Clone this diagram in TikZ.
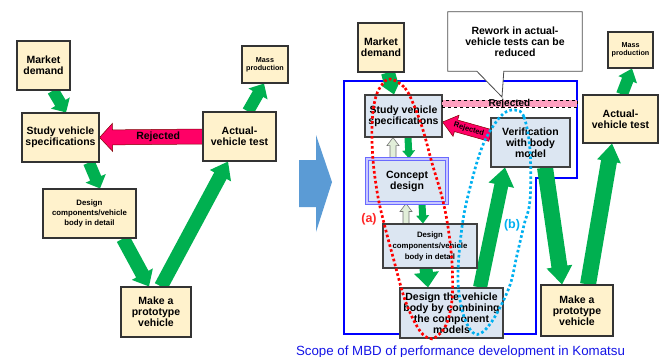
\documentclass[tikz,border=0pt]{standalone}
\usepackage{fontspec}
\setmainfont{Liberation Sans}
\usetikzlibrary{calc,backgrounds}
\definecolor{cream}{HTML}{FFF2CC}
\definecolor{lblue}{HTML}{DCE6F2}
\definecolor{ggreen}{HTML}{00B050}
\definecolor{pale}{HTML}{E2EFD9}
\definecolor{rejpink}{HTML}{FF0066}
\definecolor{barpink}{HTML}{FFA0C0}
\definecolor{bigblue}{HTML}{5B9BD5}
\definecolor{cyanb}{HTML}{00B0F0}
\definecolor{scopeblue}{HTML}{0000FF}
\definecolor{conceptblue}{HTML}{6A6AFF}
\definecolor{conceptin}{HTML}{C8C8FF}
\definecolor{capblue}{HTML}{1414E6}
\newcommand\fatarr[6][]{%
  \coordinate (fab) at ($(#3)!#6!(#2)$);
  \path[#1] ($(#2)!#4!90:(#3)$) -- ($(fab)!#4!90:(#3)$) -- ($(fab)!#5!90:(#3)$) -- (#3)
    -- ($(fab)!#5!-90:(#3)$) -- ($(fab)!#4!-90:(#3)$) -- ($(#2)!#4!-90:(#3)$) -- cycle;}
\begin{document}
\begin{tikzpicture}[x=1pt,y=-1pt,
  box/.style={draw=black!80, line width=1.1pt, align=center, inner sep=0pt, font=\bfseries\fontsize{10.5}{11}\selectfont},
  cbox/.style={box, fill=cream},
  bbox/.style={box, fill=lblue, draw=black!75},
  small/.style={font=\bfseries\fontsize{7.8}{10}\selectfont},
  tiny/.style={font=\bfseries\fontsize{7.2}{8}\selectfont},
  garrow/.style={fill=ggreen},
  parrow/.style={fill=pale, draw=black!55, line width=0.6pt},
  rarrow/.style={fill=rejpink, draw=black!50!red, line width=0.5pt},
  loopline/.style={line width=2.7pt, dash pattern=on 2.6pt off 2.4pt},
]
\useasboundingbox (0,0) rectangle (661,356);

% ---------- left nodes ----------
\node[cbox, minimum width=53pt, minimum height=49pt] (mdL) at (43.5,65.5) {Market\\demand};
\node[cbox, tiny, minimum width=46pt, minimum height=37pt] (mpL) at (265,64.5) {Mass\\production};
\node[cbox, minimum width=77pt, minimum height=49pt] (svL) at (60.5,137.5) {Study vehicle\\specifications};
\node[cbox, minimum width=73pt, minimum height=49pt] (avL) at (239.5,136.5) {Actual-\\vehicle test};
\node[cbox, small, minimum width=93pt, minimum height=49pt] (dcL) at (89.5,213.5) {Design\\components/vehicle\\body in detail};
\node[cbox, minimum width=70pt, minimum height=50pt] (mkL) at (156,312) {Make a\\prototype\\vehicle};

% ---------- right nodes ----------
\node[font=\bfseries\fontsize{10.5}{11}\selectfont, align=center, minimum width=134pt, minimum height=59pt, inner sep=0pt] (callout) at (515,41.5) {Rework in actual-\\vehicle tests can be\\reduced};
\coordinate (ptip) at (502,97);
\node[cbox, minimum width=46pt, minimum height=49pt] (mdR) at (381,47.5) {Market\\demand};
\node[bbox, minimum width=77pt, minimum height=42pt] (svR) at (403.5,116) {Study vehicle\\specifications};
\node[draw=black, dashed, line width=0.6pt, fill=barpink, minimum width=135pt, minimum height=7pt, inner sep=0pt, text height=6pt, text depth=1pt, font=\bfseries\fontsize{10}{10}\selectfont] (rbar) at (509.5,103.5) {Rejected};
\node[bbox, minimum width=79pt, minimum height=49pt] (vrR) at (530.5,142.5) {Verification\\with body\\model};
\node[bbox, draw=conceptblue, double=conceptin, double distance=1.2pt, line width=1pt, minimum width=80pt, minimum height=44pt] (cdR) at (407,181) {Concept\\design};
\node[bbox, font=\bfseries\fontsize{7.8}{11}\selectfont, minimum width=94pt, minimum height=44pt] (dcR) at (430,246) {Design\\components/vehicle\\body in detail};
\node[bbox, minimum width=103pt, minimum height=50pt] (dvR) at (451.5,313) {Design the vehicle\\body by combining\\the component\\models};
\node[cbox, tiny, minimum width=45pt, minimum height=36pt] (mpR) at (630.5,50) {Mass\\production};
\node[cbox, minimum width=75pt, minimum height=48pt] (avR) at (620.5,119) {Actual-\\vehicle test};
\node[cbox, minimum width=72pt, minimum height=51pt] (mkR) at (577,310.5) {Make a\\prototype\\vehicle};

% ---------- arrow end points ----------
\coordinate (g1a) at ($(mdL.south)+(9.5,0)$);  \coordinate (g1b) at ($(svL.north)+(5.5,0)$);
\coordinate (g2a) at ($(svL.south)+(28.5,0)$); \coordinate (g2b) at ($(dcL.north)+(10.5,0)$);
\coordinate (g3a) at ($(dcL.south)+(33.5,0)$); \coordinate (g3b) at ($(mkL.north)+(-7,0)$);
\coordinate (g4a) at ($(mkL.north)+(5,0)$);    \coordinate (g4b) at ($(avL.south)+(-11.5,0)$);
\coordinate (g5a) at ($(avL.north)+(8.5,0)$);  \coordinate (g5b) at ($(mpL.south)+(-1,0)$);
\coordinate (g6a) at ($(mdR.south)+(7,0)$);    \coordinate (g6b) at ($(svR.north)+(-9.5,0)$);
\coordinate (g7a) at ($(svR.south)+(4.5,0)$);  \coordinate (g7b) at ($(cdR.north)+(2,0)$);
\coordinate (p8a) at ($(cdR.north)+(-14,0)$);  \coordinate (p8b) at ($(svR.south)+(-10.5,0)$);
\coordinate (g9a) at ($(cdR.south)+(15,0)$);   \coordinate (g9b) at ($(dcR.north)+(-7,0)$);
\coordinate (p10a) at ($(dcR.north)+(-24,0)$); \coordinate (p10b) at ($(cdR.south)+(-1,0)$);
\coordinate (g11a) at ($(dcR.south)+(-4,0)$);  \coordinate (g11b) at ($(dvR.north)+(-23.5,0)$);
\coordinate (g12a) at ($(dvR.north)+(28.5,0)$); \coordinate (g12b) at ($(vrR.south)+(-25.5,0)$);
\coordinate (g13a) at ($(vrR.south)+(14.5,0)$); \coordinate (g13b) at ($(mkR.north)+(-15,0)$);
\coordinate (g14a) at ($(mkR.north)+(11,0)$);  \coordinate (g14b) at ($(avR.south)+(-8.5,0)$);
\coordinate (g15a) at ($(avR.north)+(1.5,0)$); \coordinate (g15b) at ($(mpR.south)+(1.5,0)$);
\coordinate (rRa) at ($(vrR.west)+(0,-7)$);    \coordinate (rRb) at ($(svR.east)+(0,6)$);

\begin{scope}[on background layer]
  % scope of MBD
  \draw[scopeblue, line width=1.8pt] (344,81) -- (577,81) -- (577,178) -- (536,178) -- (536,334) -- (344,334) -- cycle;
  % callout
  \draw[fill=white, draw=black!70, line width=0.8pt] (callout.north west) -- (callout.north east) -- (callout.south east)
     -- ($(callout.south west)+(56,0)$) -- (ptip) -- ($(callout.south west)+(29,0)$) -- (callout.south west) -- cycle;
  % big transition arrow
  \fill[bigblue] (299,160) -- (316,160) -- (316,135) -- (332,182) -- (316,232) -- (316,207) -- (299,207) -- cycle;
  % left process arrows
  \fatarr[garrow]{g1a}{g1b}{6pt}{11pt}{11pt}
  \fatarr[garrow]{g2a}{g2b}{6pt}{11pt}{11pt}
  \fatarr[garrow]{g3a}{g3b}{7pt}{12pt}{14pt}
  \fatarr[garrow]{g4a}{g4b}{7pt}{12pt}{16pt}
  \fatarr[garrow]{g5a}{g5b}{6pt}{11pt}{12pt}
  \fatarr[rarrow]{avL.west}{svL.east}{7.5pt}{14pt}{13pt}
  % right process arrows
  \fatarr[garrow]{g6a}{g6b}{7pt}{10pt}{12pt}
  \fatarr[garrow]{g7a}{g7b}{3.5pt}{6.5pt}{8pt}
  \fatarr[parrow]{p8a}{p8b}{3pt}{6pt}{8pt}
  \fatarr[garrow]{g9a}{g9b}{3.5pt}{6.5pt}{8pt}
  \fatarr[parrow]{p10a}{p10b}{3pt}{6pt}{8pt}
  \fatarr[garrow]{g11a}{g11b}{6.5pt}{12.5pt}{15pt}
  \fatarr[garrow]{g12a}{g12b}{7pt}{13pt}{18pt}
  \fatarr[garrow]{g13a}{g13b}{8pt}{13pt}{18pt}
  \fatarr[garrow]{g14a}{g14b}{8pt}{12pt}{18pt}
  \fatarr[garrow]{g15a}{g15b}{6pt}{10pt}{12pt}
  \fatarr[rarrow]{rRa}{rRb}{6pt}{11pt}{14pt}
\end{scope}

\node[font=\bfseries\fontsize{10.5}{11}\selectfont] (rejL) at ($(avL.west)!0.43!(svL.east)$) {Rejected};
\node[font=\bfseries\fontsize{7.5}{8}\selectfont, rotate=-16] (rejR) at ($(rRa)!0.45!(rRb)$) {Rejected};

% ---------- loops (a) and (b) ----------
\draw[loopline, red] plot[smooth cycle, tension=0.6] coordinates {(390,79) (405,88) (415,108) (423,130) (432,163) (442,197) (448,227) (452,263) (452,300) (446,325) (436,337) (428,338) (418,328) (405,300) (393,257) (385,227) (378,197) (373,160) (372,125) (375,100) (381,86)};
\draw[loopline, cyanb] plot[smooth cycle, tension=0.6] coordinates {(515,110) (524,117) (530,150) (530,200) (524,225) (517,255) (510,285) (497,313) (485,330) (475,334) (466,322) (460,300) (458,270) (463,220) (472,180) (481,150) (490,131) (503,114)};
\node[text=red!85!white, font=\bfseries\fontsize{12.5}{12.5}\selectfont] (la) at (369,219) {(a)};
\node[text=cyanb, font=\bfseries\fontsize{12.5}{12.5}\selectfont] (lb) at (512,225) {(b)};

% ---------- caption ----------
\node[anchor=base, text=capblue, font=\fontsize{13.3}{14}\selectfont, inner sep=0pt] (cap) at (460.5,355.5) {Scope of MBD of performance development in Komatsu};
\end{tikzpicture}
\end{document}
